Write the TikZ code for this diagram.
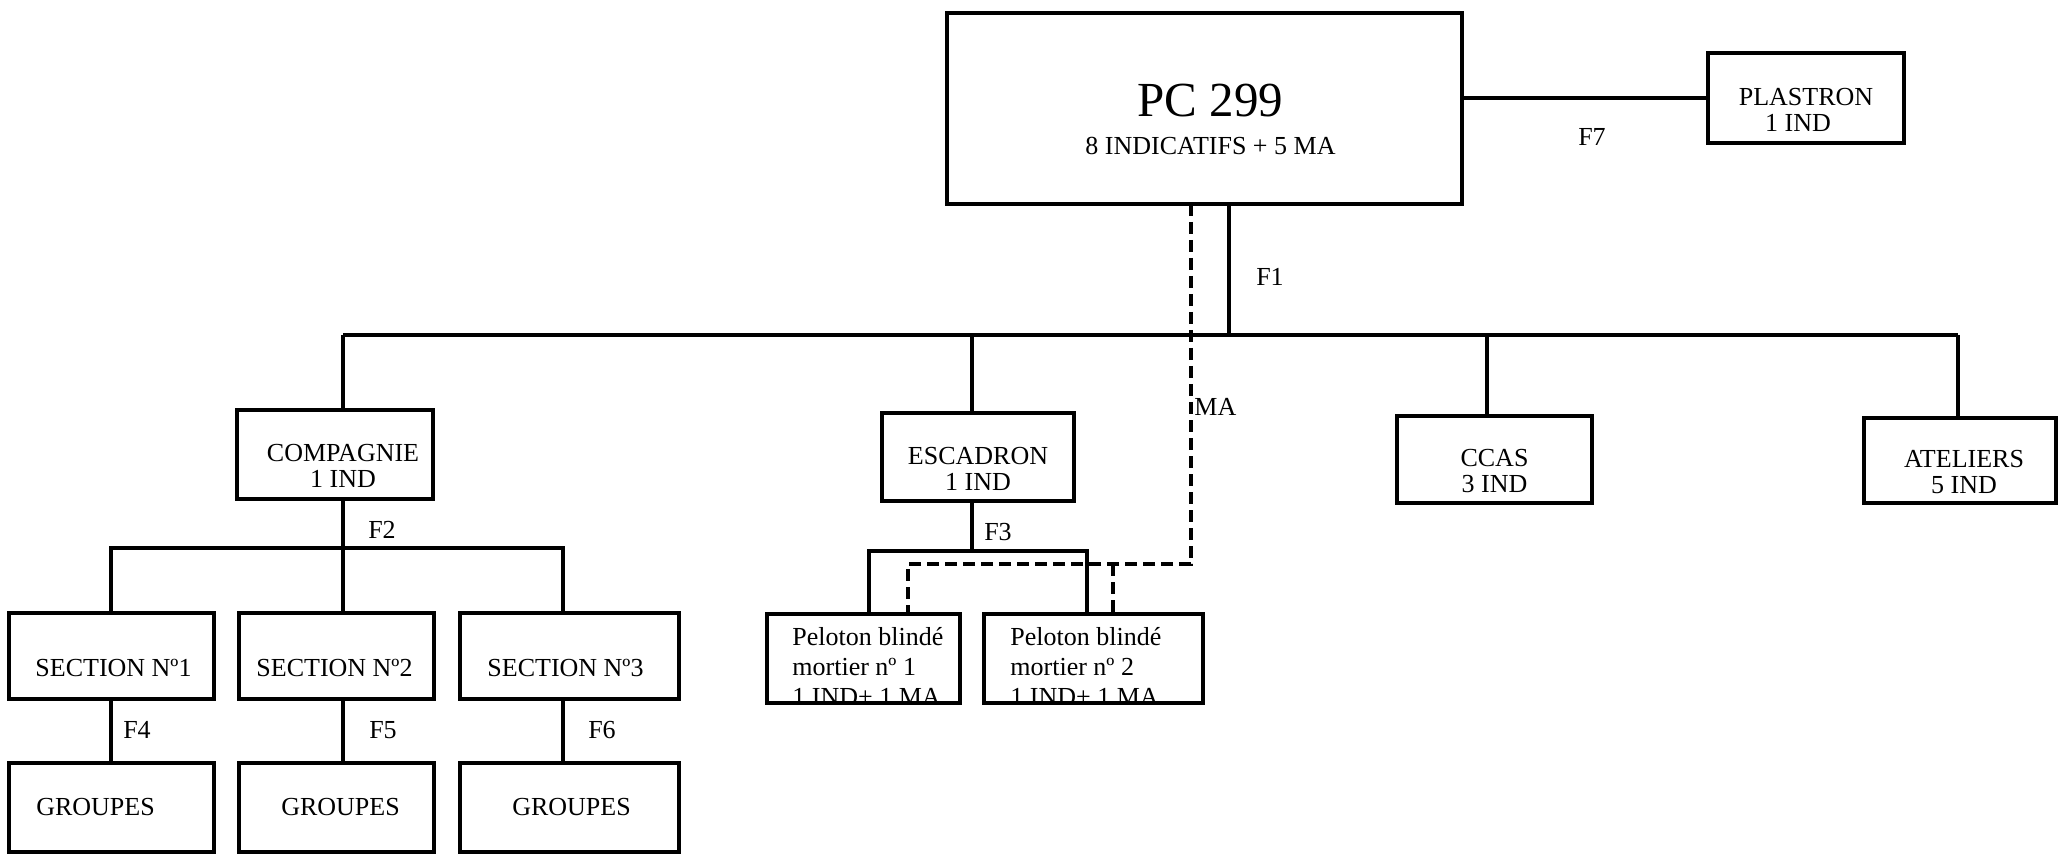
\documentclass[tikz,border=0pt]{standalone}
\usepackage{fontspec}
\setmainfont{Liberation Serif}
% shift the visible text by (#1 right, #2 down) without changing the box size
\newcommand\mvtext[3]{\raisebox{-#2}[\height][\depth]{\rlap{\kern#1\relax#3}\phantom{#3}}}
\newcommand\twolines[2]{\begin{tabular}{@{}c@{}}#1\\#2\end{tabular}}
\begin{document}
\begin{tikzpicture}[x=0.5pt,y=-0.5pt,
  box/.style={draw,line width=1.6pt,inner sep=0pt,outer sep=0pt,font=\fontsize{13}{13}\selectfont},
  wire/.style={line width=1.6pt},
  dwire/.style={line width=1.6pt,dash pattern=on 6pt off 3pt},
  lab/.style={inner sep=0pt,font=\fontsize{13}{13}\selectfont},
  peltext/.style={inner sep=0pt,align=left,font=\fontsize{13}{15}\selectfont}]
\useasboundingbox (0,0) rectangle (2060,855);

% boxes
\node[box,minimum width=257.5pt,minimum height=95.5pt] (pc) at (1204.5,108.5)
  {\mvtext{3pt}{7.2pt}{\begin{tabular}{@{}c@{}}{\fontsize{24.5}{24.5}\selectfont PC 299}\\[6pt]8 INDICATIFS + 5 MA\end{tabular}}};
\node[box,minimum width=98pt,minimum height=45pt] (plastron) at (1806,98)
  {\mvtext{0pt}{7.5pt}{\twolines{PLASTRON}{1 IND\hspace*{8pt}}}};
\node[box,minimum width=98pt,minimum height=44.5pt] (comp) at (335,454.5)
  {\mvtext{4pt}{7.5pt}{\twolines{COMPAGNIE}{1 IND}}};
\node[box,minimum width=96pt,minimum height=44pt] (esc) at (978,457)
  {\mvtext{0pt}{7.5pt}{\twolines{ESCADRON}{1 IND}}};
\node[box,minimum width=97.5pt,minimum height=43.5pt] (ccas) at (1494.5,459.5)
  {\mvtext{0pt}{7.3pt}{\twolines{CCAS}{3 IND}}};
\node[box,minimum width=96pt,minimum height=42.5pt] (atel) at (1960,460.5)
  {\mvtext{2pt}{7.4pt}{\twolines{ATELIERS}{5 IND}}};
\node[box,minimum width=102.5pt,minimum height=43pt] (sec1) at (111.5,656) {\mvtext{1pt}{6pt}{SECTION Nº1}};
\node[box,minimum width=97.5pt,minimum height=43pt] (sec2) at (336.5,656) {\mvtext{-1pt}{6pt}{SECTION Nº2}};
\node[box,minimum width=109.5pt,minimum height=43pt] (sec3) at (569.5,656) {\mvtext{-2pt}{6pt}{SECTION Nº3}};
\node[box,minimum width=102.5pt,minimum height=44.5pt] (grp1) at (111.5,807.5) {\mvtext{-8pt}{0pt}{GROUPES}};
\node[box,minimum width=97.5pt,minimum height=44.5pt] (grp2) at (336.5,807.5) {\mvtext{2pt}{0pt}{GROUPES}};
\node[box,minimum width=109.5pt,minimum height=44.5pt] (grp3) at (569.5,807.5) {\mvtext{1pt}{0pt}{GROUPES}};

% peloton boxes with clipped text
\begin{scope}
  \clip (767,614) rectangle (960,703);
  \node[peltext,anchor=north west] (pel1t) at (792,627) {Peloton blindé\\mortier nº 1\\1 IND+ 1 MA};
\end{scope}
\begin{scope}
  \clip (984,614) rectangle (1203,703);
  \node[peltext,anchor=north west] (pel2t) at (1010,627) {Peloton blindé\\mortier nº 2\\1 IND+ 1 MA};
\end{scope}
\node[box,minimum width=96.5pt,minimum height=44.5pt] (pel1) at (863.5,658.5) {};
\node[box,minimum width=109.5pt,minimum height=44.5pt] (pel2) at (1093.5,658.5) {};

% main bus
\coordinate (busL) at (343,335);
\coordinate (busR) at (1958,335);
\coordinate (escB) at (972,335);
\coordinate (ccasB) at (1487,335);
\coordinate (f1) at (1229,335);
\draw[wire] (busL) -- (busR);
\draw[wire] (busL) -- (busL |- comp.north);
\draw[wire] (escB) -- (escB |- esc.north);
\draw[wire] (ccasB) -- (ccasB |- ccas.north);
\draw[wire] (busR) -- (busR |- atel.north);
\draw[wire] (f1 |- pc.south) -- (f1);

% F7
\draw[wire] (pc.east |- plastron.west) -- (plastron.west);

% F2
\coordinate (f2) at (343,548);
\coordinate (f2L) at (111,548);
\coordinate (f2R) at (563,548);
\draw[wire] (f2 |- comp.south) -- (f2);
\draw[wire] (f2L |- sec1.north) -- (f2L) -- (f2R) -- (f2R |- sec3.north);
\draw[wire] (f2) -- (f2 |- sec2.north);

% F4 F5 F6
\draw[wire] (sec1.south -| f2L) -- (grp1.north -| f2L);
\draw[wire] (sec2.south -| f2) -- (grp2.north -| f2);
\draw[wire] (sec3.south -| f2R) -- (grp3.north -| f2R);

% F3
\coordinate (f3) at (972,551);
\coordinate (f3L) at (869,551);
\coordinate (f3R) at (1087,551);
\draw[wire] (f3 |- esc.south) -- (f3);
\draw[wire] (f3L |- pel1.north) -- (f3L) -- (f3R) -- (f3R |- pel2.north);

% MA dashed
\coordinate (ma) at (1191,564);
\coordinate (maL) at (908,564);
\coordinate (maR) at (1113,564);
\draw[dwire] (ma |- pc.south) -- (ma) -- (maL) -- (maL |- pel1.north);
\draw[dwire] (maR) -- (maR |- pel2.north);

% labels
\node[lab] (lf7) at (1592,137) {F7};
\node[lab] (lf1) at (1270,277) {F1};
\node[lab,anchor=west] (lma) at (1194,407) {MA};
\node[lab] (lf2) at (382,530) {F2};
\node[lab] (lf3) at (998,532) {F3};
\node[lab] (lf4) at (137,730) {F4};
\node[lab] (lf5) at (383,730) {F5};
\node[lab] (lf6) at (602,730) {F6};
\end{tikzpicture}
\end{document}
